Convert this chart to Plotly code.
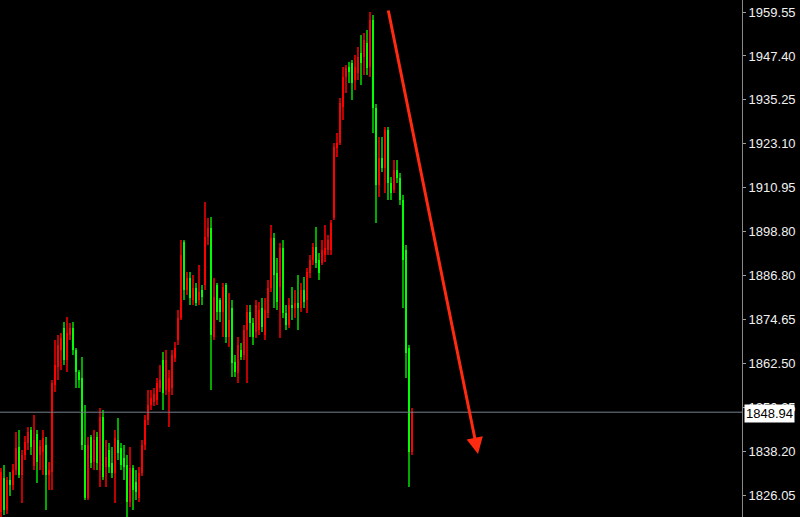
import plotly.graph_objects as go

# OHLC values (price units)
open_ = [1821.35, 1830.75, 1821.91, 1830.20, 1828.82, 1832.96, 1839.32, 1831.58, 1837.11, 1840.42,
         1844.02, 1834.07, 1842.91, 1837.11, 1837.94, 1839.87, 1831.58, 1832.41, 1856.46, 1861.43,
         1866.13, 1872.21, 1863.37, 1870.28, 1872.21, 1866.13, 1860.05, 1858.39, 1839.87, 1825.22,
         1842.08, 1835.17, 1842.08, 1832.96, 1847.61, 1833.79, 1838.49, 1834.90, 1832.13, 1841.25,
         1839.04, 1836.28, 1834.34, 1824.12, 1833.51, 1829.65, 1825.22, 1832.13, 1839.87, 1846.78,
         1850.93, 1851.76, 1852.31, 1855.63, 1863.37, 1855.07, 1854.52, 1855.63, 1863.92, 1868.89,
         1874.97, 1895.98, 1882.71, 1886.03, 1879.95, 1883.27, 1879.95, 1882.71, 1884.10, 1897.36,
         1899.85, 1869.72, 1884.10, 1879.95, 1876.63, 1884.10, 1869.72, 1877.74, 1862.81, 1859.77,
         1866.13, 1864.75, 1871.66, 1876.63, 1873.59, 1871.11, 1871.66, 1877.74, 1870.28, 1876.36,
         1883.27, 1897.09, 1887.41, 1883.54, 1894.32, 1876.36, 1873.04, 1878.57, 1877.74, 1879.12,
         1877.74, 1882.71, 1879.95, 1887.41, 1891.01, 1894.60, 1891.01, 1890.18, 1892.39, 1893.77,
         1893.77, 1902.61, 1921.96, 1923.34, 1933.30, 1941.59, 1944.35, 1945.46, 1940.76, 1942.69,
         1948.22, 1947.12, 1950.98, 1944.35, 1957.34, 1933.02, 1911.74, 1919.20, 1916.43, 1926.94,
         1912.29, 1910.35, 1915.88, 1913.67, 1907.59, 1893.77, 1866.68, 1837.94]
high = [1833.51, 1834.34, 1831.03, 1832.41, 1834.62, 1843.47, 1844.02, 1838.49, 1842.36, 1844.85,
        1844.85, 1848.16, 1844.02, 1841.25, 1844.02, 1842.08, 1835.17, 1857.84, 1868.89, 1870.28,
        1870.83, 1873.87, 1875.25, 1873.59, 1873.87, 1866.68, 1860.60, 1864.20, 1850.93, 1842.08,
        1842.64, 1844.02, 1843.47, 1850.10, 1849.55, 1841.25, 1840.42, 1839.32, 1844.02, 1847.33,
        1840.42, 1839.87, 1837.11, 1839.32, 1834.34, 1832.96, 1833.79, 1841.25, 1848.16, 1855.07,
        1855.07, 1855.63, 1858.39, 1861.98, 1865.58, 1866.13, 1860.60, 1866.13, 1868.34, 1877.19,
        1896.53, 1896.53, 1887.69, 1887.69, 1886.86, 1884.65, 1889.62, 1884.10, 1907.04, 1902.61,
        1902.89, 1886.03, 1884.65, 1880.50, 1884.65, 1884.65, 1881.88, 1879.95, 1864.75, 1869.72,
        1868.06, 1873.04, 1878.57, 1878.57, 1874.97, 1879.95, 1879.40, 1880.50, 1880.50, 1885.48,
        1900.68, 1898.47, 1891.56, 1895.70, 1896.53, 1878.57, 1880.50, 1883.54, 1882.71, 1886.86,
        1884.65, 1886.31, 1888.79, 1892.39, 1895.70, 1900.13, 1892.94, 1896.53, 1900.68, 1897.92,
        1902.06, 1923.34, 1926.11, 1935.78, 1944.35, 1944.90, 1945.73, 1946.29, 1947.67, 1949.88,
        1953.20, 1953.75, 1954.58, 1959.55, 1958.72, 1934.12, 1925.00, 1925.00, 1927.77, 1927.77,
        1913.95, 1918.65, 1918.65, 1915.05, 1908.97, 1895.15, 1867.51, 1850.10]
low = [1818.59, 1820.52, 1820.80, 1825.78, 1827.43, 1831.58, 1830.75, 1823.84, 1835.73, 1838.49,
       1837.11, 1832.96, 1829.37, 1832.96, 1831.58, 1821.91, 1827.43, 1827.43, 1854.52, 1857.84,
       1860.60, 1861.98, 1860.05, 1868.89, 1864.75, 1855.63, 1855.63, 1838.49, 1824.67, 1824.67,
       1833.51, 1832.96, 1832.96, 1828.26, 1830.20, 1828.26, 1832.13, 1830.75, 1823.84, 1835.73,
       1832.96, 1830.20, 1819.97, 1822.74, 1821.91, 1824.67, 1824.12, 1831.30, 1838.49, 1845.40,
       1849.55, 1850.65, 1850.93, 1854.52, 1849.55, 1853.69, 1844.85, 1853.69, 1862.81, 1867.51,
       1874.42, 1879.95, 1881.33, 1878.57, 1878.57, 1878.29, 1878.57, 1878.57, 1882.71, 1895.15,
       1855.07, 1868.89, 1874.42, 1873.87, 1869.72, 1868.06, 1866.96, 1858.67, 1858.67, 1857.01,
       1863.37, 1863.37, 1857.01, 1869.72, 1867.51, 1869.45, 1870.28, 1871.11, 1868.89, 1874.97,
       1882.16, 1877.74, 1877.19, 1869.45, 1874.97, 1871.66, 1872.21, 1874.42, 1874.97, 1871.66,
       1876.63, 1877.74, 1876.36, 1886.03, 1889.62, 1888.79, 1885.48, 1889.62, 1890.45, 1892.39,
       1892.39, 1902.06, 1919.48, 1922.79, 1929.70, 1937.16, 1939.93, 1935.23, 1937.99, 1940.76,
       1939.38, 1942.14, 1942.14, 1941.59, 1926.11, 1901.23, 1908.42, 1915.33, 1909.52, 1907.59,
       1907.59, 1909.52, 1912.29, 1906.21, 1877.74, 1858.39, 1828.26, 1837.11]
close = [1832.41, 1821.91, 1830.20, 1828.82, 1832.96, 1839.04, 1831.58, 1837.11, 1840.70, 1843.47,
         1839.32, 1841.25, 1835.17, 1839.60, 1841.81, 1831.58, 1832.96, 1857.01, 1861.98, 1867.51,
         1869.45, 1863.37, 1870.83, 1872.21, 1866.13, 1860.05, 1857.84, 1839.87, 1825.22, 1839.87,
         1834.90, 1841.25, 1834.90, 1847.61, 1831.03, 1836.56, 1833.79, 1832.13, 1841.81, 1837.66,
         1834.34, 1833.79, 1824.12, 1833.51, 1827.43, 1826.88, 1832.13, 1839.87, 1846.78, 1850.93,
         1852.86, 1853.97, 1857.01, 1857.84, 1854.25, 1863.37, 1858.39, 1864.75, 1866.68, 1874.97,
         1892.39, 1882.71, 1886.03, 1880.50, 1883.27, 1879.12, 1882.16, 1880.78, 1897.36, 1899.85,
         1870.28, 1880.78, 1876.63, 1876.63, 1883.54, 1869.72, 1874.42, 1862.54, 1860.05, 1867.51,
         1864.20, 1871.66, 1876.63, 1873.59, 1869.72, 1878.57, 1877.19, 1872.49, 1877.19, 1883.27,
         1897.09, 1886.86, 1879.40, 1894.32, 1876.36, 1873.04, 1878.57, 1877.74, 1879.12, 1877.74,
         1882.71, 1879.40, 1887.69, 1891.01, 1894.60, 1890.18, 1887.41, 1893.77, 1894.32, 1896.53,
         1901.23, 1922.24, 1923.34, 1934.40, 1941.59, 1944.07, 1942.97, 1939.93, 1944.35, 1947.12,
         1945.46, 1951.81, 1944.07, 1957.34, 1933.02, 1911.74, 1919.20, 1916.43, 1926.94, 1912.29,
         1909.52, 1915.88, 1913.67, 1907.59, 1891.01, 1865.30, 1837.94, 1848.94]

tick_values = [1959.55, 1947.40, 1935.25, 1923.10, 1910.95, 1898.80, 1886.80,
               1874.65, 1862.50, 1850.35, 1838.20, 1826.05]
tick_labels = ["1959.55", "1947.40", "1935.25", "1923.10", "1910.95", "1898.80", "1886.80",
               "1874.65", "1862.50", "1850.35", "1838.20", "1826.05"]
current_price = close[-1]
current_label = "1848.94"

idx = list(range(len(close)))
up = [c > o for o, c in zip(open_, close)]
body_col = ["#ff0000" if u else "#00ff00" for u in up]
wick_col = ["#c00000" if u else "#00a800" for u in up]

fig = go.Figure()
fig.add_trace(go.Bar(
    x=idx, base=low, y=[h - l for h, l in zip(high, low)], width=0.45,
    marker=dict(color=wick_col, line=dict(width=0)), hoverinfo="skip", showlegend=False))
fig.add_trace(go.Bar(
    x=idx, base=[min(o, c) for o, c in zip(open_, close)],
    y=[max(abs(c - o), 0.3) for o, c in zip(open_, close)], width=0.85,
    marker=dict(color=body_col, line=dict(width=0)), hoverinfo="skip", showlegend=False))

fig.add_shape(type="line", xref="paper", x0=0, x1=1, yref="y", y0=current_price, y1=current_price,
              line=dict(color="#76808f", width=1))

fig.add_annotation(xref="paper", yref="y", x=1, y=current_price, xanchor="left", yanchor="middle",
                   xshift=2, yshift=-1, text=current_label, showarrow=False, bgcolor="#ffffff",
                   font=dict(family="Liberation Sans", size=13, color="#000000"), borderpad=1)

# red trend arrow
fig.add_annotation(xref="paper", yref="paper", x=478 / 742, y=1 - 454 / 517, text="",
                   showarrow=True, arrowhead=2, arrowsize=1.1, arrowwidth=3, arrowcolor="#ff2a10",
                   ax=-90, ay=-445, standoff=0)

fig.update_layout(
    width=800, height=517, margin=dict(l=0, r=58, t=0, b=0),
    paper_bgcolor="#000000", plot_bgcolor="#000000", barmode="overlay", bargap=0,
    xaxis=dict(range=[-0.333, 247], visible=False, fixedrange=True),
    yaxis=dict(range=[1819.97, 1962.87], side="right", showgrid=False, zeroline=False,
               showline=True, linecolor="#8a8a8a", linewidth=1,
               tickmode="array", tickvals=tick_values, ticktext=tick_labels,
               ticks="outside", ticklen=3, tickcolor="#a0a0a0",
               tickfont=dict(family="Liberation Sans", size=13, color="#f0f0f0")),
    hovermode=False,
)

fig.write_html("out.html", config={"displayModeBar": False},
               post_script="document.body.style.margin='0';document.body.style.overflow='hidden';"
                           "document.body.style.background='#000';")
